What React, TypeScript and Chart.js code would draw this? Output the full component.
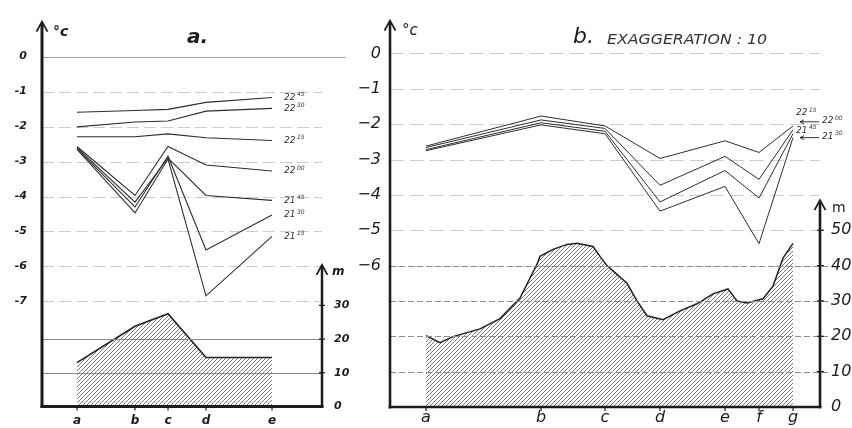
import React, { useEffect, useRef } from 'react';
import { Chart, registerables } from 'chart.js';

Chart.register(...registerables);

const FONT = '"DejaVu Sans", "Liberation Sans", sans-serif';
const INK = '#1c1c1c';
const LINE = '#2e2e2e';

// canvas layout (page pixels)
const WIDTH_A = 360;
const LEFT_B = 340;
const WIDTH_B = 852 - LEFT_B;

// ---- Panel a: temperature profiles at stations a–e ----
const stationsA = ['a', 'b', 'c', 'd', 'e'];
const stationPosA = [3.5, 9.3, 12.6, 16.4, 23.0];
const timesA = ['22:45', '22:30', '22:15', '22:00', '21:45', '21:30', '21:15'];
const tA2245 = [-1.59, -1.54, -1.51, -1.31, -1.17];
const tA2230 = [-2.01, -1.87, -1.84, -1.56, -1.48];
const tA2215 = [-2.29, -2.29, -2.21, -2.32, -2.40];
const tA2200 = [-2.57, -3.97, -2.57, -3.10, -3.27];
const tA2145 = [-2.60, -4.16, -2.90, -3.97, -4.11];
const tA2130 = [-2.63, -4.30, -2.85, -5.53, -4.53];
const tA2115 = [-2.65, -4.47, -2.93, -6.84, -5.14];
const heightA = [13.0, 23.8, 27.5, 14.5, 14.5];
const tempTicksA = [0, -1, -2, -3, -4, -5, -6, -7];
const heightTicksA = [0, 10, 20, 30];

// ---- Panel b: stations a–g, relief exaggerated ×10 ----
const stationsB = ['a', 'b', 'c', 'd', 'e', 'f', 'g'];
const stationPosB = [3.6, 15.1, 21.5, 27.0, 33.5, 36.9, 40.3];
const timesB = ['22:15', '22:00', '21:45', '21:30'];
const tB2215 = [-2.62, -1.77, -2.05, -2.97, -2.47, -2.80, -2.05];
const tB2200 = [-2.66, -1.88, -2.12, -3.73, -2.91, -3.56, -2.16];
const tB2145 = [-2.72, -1.96, -2.20, -4.20, -3.31, -4.09, -2.27];
const tB2130 = [-2.75, -2.02, -2.27, -4.46, -3.76, -5.38, -2.38];
const profileXB = [
  3.6, 5.0, 6.3, 9.0, 11.0, 13.0, 14.7, 15.0, 16.3, 17.7, 18.7, 20.3, 21.0, 21.7,
  22.7, 23.7, 24.7, 25.7, 27.3, 29.0, 30.7, 32.3, 33.8, 34.7, 35.7, 37.3, 38.3,
  39.3, 40.3,
];
const profileHB = [
  20.2, 18.2, 19.9, 22.1, 25.0, 30.8, 40.4, 42.6, 44.6, 46.0, 46.3, 45.4, 42.6,
  40.0, 37.5, 35.0, 30.0, 25.8, 24.7, 27.2, 29.2, 32.0, 33.4, 30.0, 29.4, 30.6,
  34.2, 42.1, 46.3,
];
const tempTicksB = [0, -1, -2, -3, -4, -5, -6];
const heightTicksB = [0, 10, 20, 30, 40, 50];

// label placement for the line ends of panel b (offsets from the last point)
const endLabelB = [
  { dx: 3, dy: -13, leader: false },
  { dx: 29, dy: -9, leader: true },
  { dx: 3, dy: -3, leader: false },
  { dx: 29, dy: -1, leader: true },
];

function makeHatch(): CanvasPattern | string {
  const c = document.createElement('canvas');
  c.width = 4;
  c.height = 4;
  const g = c.getContext('2d');
  if (!g) return '#c8c8c8';
  g.strokeStyle = 'rgba(60,60,60,0.8)';
  g.lineWidth = 0.85;
  g.beginPath();
  g.moveTo(0, 4);
  g.lineTo(4, 0);
  g.moveTo(-1, 1);
  g.lineTo(1, -1);
  g.moveTo(3, 5);
  g.lineTo(5, 3);
  g.stroke();
  return g.createPattern(c, 'repeat') ?? '#c8c8c8';
}

function hLine(ctx: CanvasRenderingContext2D, x1: number, x2: number, y: number, color: string, width: number, dash: number[]) {
  ctx.save();
  ctx.strokeStyle = color;
  ctx.lineWidth = width;
  ctx.setLineDash(dash);
  ctx.beginPath();
  ctx.moveTo(x1, y);
  ctx.lineTo(x2, y);
  ctx.stroke();
  ctx.restore();
}

function seg(ctx: CanvasRenderingContext2D, x1: number, y1: number, x2: number, y2: number, width: number) {
  ctx.save();
  ctx.strokeStyle = INK;
  ctx.lineWidth = width;
  ctx.setLineDash([]);
  ctx.beginPath();
  ctx.moveTo(x1, y1);
  ctx.lineTo(x2, y2);
  ctx.stroke();
  ctx.restore();
}

function upArrow(ctx: CanvasRenderingContext2D, x: number, yTop: number, yBottom: number, lw: number) {
  ctx.save();
  ctx.strokeStyle = INK;
  ctx.setLineDash([]);
  ctx.lineWidth = lw;
  ctx.beginPath();
  ctx.moveTo(x, yBottom);
  ctx.lineTo(x, yTop + 2);
  ctx.stroke();
  ctx.lineWidth = 1.8;
  ctx.beginPath();
  ctx.moveTo(x - 5.5, yTop + 10);
  ctx.lineTo(x, yTop);
  ctx.lineTo(x + 5.5, yTop + 10);
  ctx.stroke();
  ctx.restore();
}

function text(ctx: CanvasRenderingContext2D, s: string, x: number, y: number, font: string, color = INK) {
  ctx.save();
  ctx.fillStyle = color;
  ctx.font = font;
  ctx.textAlign = 'left';
  ctx.textBaseline = 'alphabetic';
  ctx.fillText(s, x, y);
  ctx.restore();
}

function timeLabel(ctx: CanvasRenderingContext2D, label: string, x: number, y: number, size: number) {
  const [h, m] = label.split(':');
  ctx.save();
  ctx.fillStyle = '#333';
  ctx.textBaseline = 'middle';
  ctx.textAlign = 'left';
  ctx.font = `italic ${size}px ${FONT}`;
  ctx.fillText(h, x, y);
  const w = ctx.measureText(h).width;
  ctx.font = `italic ${Math.round(size * 0.72)}px ${FONT}`;
  ctx.fillText(m, x + w + 1.5, y - size * 0.32);
  ctx.restore();
}

function pts(xs: number[], ys: number[]) {
  return xs.map((x, i) => ({ x, y: ys[i] }));
}

// ---- decorations: grid, axes with arrows, titles, time labels ----
const decorA = {
  id: 'decorA',
  beforeDatasetsDraw(chart: any) {
    const { ctx, chartArea: ca, scales } = chart;
    tempTicksA.forEach((t) => {
      const py = Math.round(scales.y.getPixelForValue(t)) + 0.5;
      if (t === 0) hLine(ctx, ca.left, ca.right + 24, py, '#a0a0a0', 1, []);
      else hLine(ctx, ca.left, ca.right, py, '#cdcdcd', 1, [12, 5]);
    });
  },
  afterDatasetsDraw(chart: any) {
    const { ctx, chartArea: ca, scales } = chart;
    const y2 = scales.y2;
    [10, 20].forEach((m) => {
      const py = Math.round(y2.getPixelForValue(m)) + 0.5;
      hLine(ctx, ca.left, ca.right, py, '#8a8a8a', 1, []);
    });
    // axes
    upArrow(ctx, ca.left, ca.top, ca.bottom + 1.5, 3);
    seg(ctx, ca.left - 1.5, ca.bottom, ca.right + 1.5, ca.bottom, 3);
    upArrow(ctx, ca.right, y2.getPixelForValue(42), ca.bottom + 1.5, 2.5);
    stationPosA.forEach((p) => {
      const px = scales.x.getPixelForValue(p);
      seg(ctx, px, ca.bottom, px, ca.bottom + 4, 1.2);
    });
    heightTicksA.slice(1).forEach((m) => {
      const py = y2.getPixelForValue(m);
      seg(ctx, ca.right - 3, py, ca.right + 3, py, 1.2);
    });
    text(ctx, '°c', ca.left + 11, 36, `italic bold 14px ${FONT}`);
    text(ctx, 'a.', 187, 43, `italic bold 20px ${FONT}`);
    text(ctx, 'm', ca.right + 10, y2.getPixelForValue(42) + 10, `italic bold 12px ${FONT}`);
    timesA.forEach((lab, k) => {
      const meta = chart.getDatasetMeta(k + 1);
      const last = meta.data[meta.data.length - 1];
      timeLabel(ctx, lab, last.x + 12, last.y, 9);
    });
  },
};

const decorB = {
  id: 'decorB',
  beforeDatasetsDraw(chart: any) {
    const { ctx, chartArea: ca, scales } = chart;
    tempTicksB.forEach((t) => {
      const py = Math.round(scales.y.getPixelForValue(t)) + 0.5;
      hLine(ctx, ca.left, ca.right, py, '#cccccc', 1, [14, 6]);
    });
  },
  afterDatasetsDraw(chart: any) {
    const { ctx, chartArea: ca, scales } = chart;
    const y2 = scales.y2;
    heightTicksB.slice(1, 5).forEach((m) => {
      const py = Math.round(y2.getPixelForValue(m)) + 0.5;
      hLine(ctx, ca.left, ca.right + 8, py, '#8c8c8c', 1, [6, 3]);
    });
    upArrow(ctx, ca.left, ca.top, ca.bottom + 1.5, 2.6);
    seg(ctx, ca.left - 1.3, ca.bottom, ca.right + 1.3, ca.bottom, 2.6);
    upArrow(ctx, ca.right, y2.getPixelForValue(58.5), ca.bottom + 1.3, 2.6);
    stationPosB.forEach((p) => {
      const px = scales.x.getPixelForValue(p);
      seg(ctx, px, ca.bottom, px, ca.bottom + 4, 1.2);
    });
    heightTicksB.slice(1).forEach((m) => {
      const py = y2.getPixelForValue(m);
      seg(ctx, ca.right - 3, py, ca.right + 4, py, 1.2);
    });
    text(ctx, '°c', ca.left + 12, 35, `italic 15px ${FONT}`);
    text(ctx, 'b.', 573 - LEFT_B, 43, `italic 22px ${FONT}`);
    ctx.save();
    ctx.font = `italic 14px "DejaVu Sans Condensed", ${FONT}`;
    const w = ctx.measureText('EXAGGERATION : 10').width;
    ctx.translate(607 - LEFT_B, 44);
    ctx.scale(160 / w, 1);
    ctx.fillStyle = '#333';
    ctx.fillText('EXAGGERATION : 10', 0, 0);
    ctx.restore();
    text(ctx, 'm', ca.right + 12, y2.getPixelForValue(58.5) + 12, `14px ${FONT}`);
    timesB.forEach((lab, k) => {
      const meta = chart.getDatasetMeta(k + 1);
      const last = meta.data[meta.data.length - 1];
      const o = endLabelB[k];
      const tx = last.x + o.dx;
      const ty = last.y + o.dy;
      if (o.leader) {
        seg(ctx, last.x + 7, ty + 1, tx - 3, ty + 1, 0.9);
        seg(ctx, last.x + 7, ty + 1, last.x + 11, ty - 1, 0.9);
        seg(ctx, last.x + 7, ty + 1, last.x + 11, ty + 3, 0.9);
      }
      timeLabel(ctx, lab, tx, ty, 9);
    });
  },
};

function axisFont(size: number, bold: boolean) {
  return { family: FONT, size, style: 'italic' as const, weight: bold ? 'bold' : 'normal' };
}

const hiddenGrid = { display: false, drawTicks: false, tickLength: 0 };

function configA(hatch: CanvasPattern | string): any {
  const series = [tA2245, tA2230, tA2215, tA2200, tA2145, tA2130, tA2115];
  return {
    type: 'line',
    data: {
      datasets: [
        {
          label: 'relief',
          data: pts(stationPosA, heightA),
          yAxisID: 'y2',
          borderColor: '#222',
          borderWidth: 1.6,
          backgroundColor: hatch,
          fill: 'start',
          pointRadius: 0,
        },
        ...series.map((s, k) => ({
          label: timesA[k],
          data: pts(stationPosA, s),
          yAxisID: 'y',
          borderColor: LINE,
          borderWidth: 1.1,
          pointRadius: 0,
          fill: false,
        })),
      ],
    },
    options: {
      responsive: false,
      animation: false,
      devicePixelRatio: 1,
      layout: { padding: { top: 15, left: 0, right: 0, bottom: 0 } },
      plugins: { legend: { display: false }, tooltip: { enabled: false } },
      scales: {
        x: {
          type: 'linear',
          min: 0,
          max: 28,
          grid: hiddenGrid,
          border: { display: false },
          afterBuildTicks: (s: any) => { s.ticks = stationPosA.map((v) => ({ value: v })); },
          afterFit: (s: any) => { s.height = 19; },
          ticks: {
            autoSkip: false,
            maxRotation: 0,
            padding: 7,
            color: INK,
            font: axisFont(12, true),
            callback: (_v: any, i: number) => stationsA[i],
          },
        },
        y: {
          type: 'linear',
          position: 'left',
          min: -10,
          max: 1.0,
          grid: hiddenGrid,
          border: { display: false },
          afterBuildTicks: (s: any) => { s.ticks = tempTicksA.map((v) => ({ value: v })); },
          afterFit: (s: any) => { s.width = 42; },
          ticks: { padding: 15, color: INK, font: axisFont(11, true), callback: (v: any) => String(v) },
        },
        y2: {
          type: 'linear',
          position: 'right',
          min: 0,
          max: 114.2,
          grid: hiddenGrid,
          border: { display: false },
          afterBuildTicks: (s: any) => { s.ticks = heightTicksA.map((v) => ({ value: v })); },
          afterFit: (s: any) => { s.width = WIDTH_A - 322; },
          ticks: { padding: 12, color: INK, font: axisFont(11, true), callback: (v: any) => String(v) },
        },
      },
    },
    plugins: [decorA],
  };
}

function configB(hatch: CanvasPattern | string): any {
  const series = [tB2215, tB2200, tB2145, tB2130];
  return {
    type: 'line',
    data: {
      datasets: [
        {
          label: 'relief',
          data: pts(profileXB, profileHB),
          yAxisID: 'y2',
          borderColor: '#222',
          borderWidth: 1.5,
          backgroundColor: hatch,
          fill: 'start',
          pointRadius: 0,
        },
        ...series.map((s, k) => ({
          label: timesB[k],
          data: pts(stationPosB, s),
          yAxisID: 'y',
          borderColor: LINE,
          borderWidth: 1.0,
          pointRadius: 0,
          fill: false,
        })),
      ],
    },
    options: {
      responsive: false,
      animation: false,
      devicePixelRatio: 1,
      layout: { padding: { top: 17, left: 0, right: 0, bottom: 0 } },
      plugins: { legend: { display: false }, tooltip: { enabled: false } },
      scales: {
        x: {
          type: 'linear',
          min: 0,
          max: 43,
          grid: hiddenGrid,
          border: { display: false },
          afterBuildTicks: (s: any) => { s.ticks = stationPosB.map((v) => ({ value: v })); },
          afterFit: (s: any) => { s.height = 21; },
          ticks: {
            autoSkip: false,
            maxRotation: 0,
            padding: 1,
            color: INK,
            font: axisFont(16, false),
            callback: (_v: any, i: number) => stationsB[i],
          },
        },
        y: {
          type: 'linear',
          position: 'left',
          min: -10,
          max: 0.93,
          grid: hiddenGrid,
          border: { display: false },
          afterBuildTicks: (s: any) => { s.ticks = tempTicksB.map((v) => ({ value: v })); },
          afterFit: (s: any) => { s.width = 390 - LEFT_B; },
          ticks: {
            padding: 9,
            color: INK,
            font: axisFont(16, false),
            callback: (v: any) => String(v).replace('-', '\u2212'),
          },
        },
        y2: {
          type: 'linear',
          position: 'right',
          min: 0,
          max: 109.3,
          grid: hiddenGrid,
          border: { display: false },
          afterBuildTicks: (s: any) => { s.ticks = heightTicksB.map((v) => ({ value: v })); },
          afterFit: (s: any) => { s.width = 852 - 820; },
          ticks: { padding: 11, color: INK, font: axisFont(16, false), callback: (v: any) => String(v) },
        },
      },
    },
    plugins: [decorB],
  };
}

export default function App() {
  const refA = useRef<HTMLCanvasElement>(null);
  const refB = useRef<HTMLCanvasElement>(null);

  useEffect(() => {
    if (!refA.current || !refB.current) return;
    const hatch = makeHatch();
    const a = new Chart(refA.current, configA(hatch));
    const b = new Chart(refB.current, configB(hatch));
    return () => {
      a.destroy();
      b.destroy();
    };
  }, []);

  return (
    <div
      style={{
        position: 'absolute',
        left: 0,
        top: 0,
        width: 852,
        height: 428,
        background: '#fff',
        overflow: 'hidden',
      }}
    >
      <canvas ref={refA} width={WIDTH_A} height={428} style={{ position: 'absolute', left: 0, top: 0 }} />
      <canvas ref={refB} width={WIDTH_B} height={428} style={{ position: 'absolute', left: LEFT_B, top: 0 }} />
    </div>
  );
}
